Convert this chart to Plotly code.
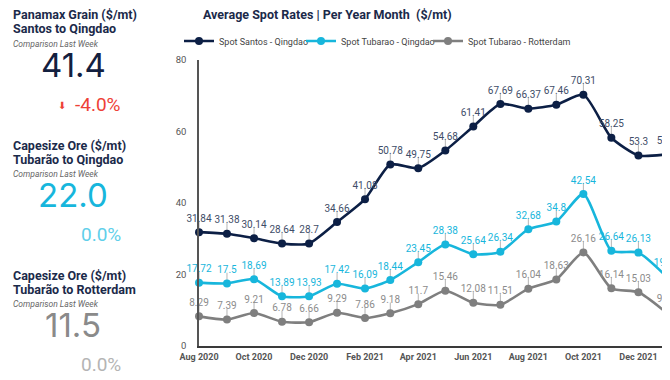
import plotly.graph_objects as go

# page body has an 8px margin; the figure is sized and positioned to compensate
OFF = 8
W, H = 670 - OFF, 380 - OFF

months = ["2020-08-01", "2020-09-01", "2020-10-01", "2020-11-01", "2020-12-01",
          "2021-01-01", "2021-02-01", "2021-03-01", "2021-04-01", "2021-05-01",
          "2021-06-01", "2021-07-01", "2021-08-01", "2021-09-01", "2021-10-01",
          "2021-11-01", "2021-12-01", "2022-01-01"]

santos_qingdao = [31.84, 31.38, 30.14, 28.64, 28.7, 34.66, 41.08, 50.78, 49.75, 54.68,
                  61.41, 67.69, 66.37, 67.46, 70.31, 58.25, 53.3, 53.6]
tubarao_qingdao = [17.72, 17.5, 18.69, 13.89, 13.93, 17.42, 16.09, 18.44, 23.45, 28.38,
                   25.64, 26.34, 32.68, 34.8, 42.54, 26.64, 26.13, 19.45]
tubarao_rotterdam = [8.29, 7.39, 9.21, 6.78, 6.66, 9.29, 7.86, 9.18, 11.7, 15.46,
                     12.08, 11.51, 16.04, 18.63, 26.16, 16.14, 15.03, 9.35]

series_names = ["Spot Santos - Qingdao", "Spot Tubarao - Qingdao", "Spot Tubarao - Rotterdam"]
series_values = [santos_qingdao, tubarao_qingdao, tubarao_rotterdam]
line_colors = ["#0c1f45", "#17b6dc", "#7f7f7f"]
label_colors = ["#3e4d68", "#17b6dc", "#8c8c8c"]
legend_ids = ["legend", "legend2", "legend3"]
legend_text_x = [217, 339, 466]

y_ticks = [0, 20, 40, 60, 80]

FONT = "Roboto"


def fx(px):
    return (px - OFF) / W


def fy(py):
    return 1 - (py - OFF) / H


fig = go.Figure()

for name, vals, lc, lg in zip(series_names, series_values, line_colors, legend_ids):
    fig.add_trace(go.Scatter(
        x=months, y=vals, name=name, mode="lines+markers", legend=lg,
        line=dict(color=lc, width=2.6, shape="spline", smoothing=0.6),
        marker=dict(color=lc, size=8),
        error_y=dict(type="data", symmetric=False, array=[3.0] * len(vals),
                     arrayminus=[0] * len(vals), color="#b5b5b5", thickness=1, width=0),
        cliponaxis=False,
    ))

for name, vals, tc in zip(series_names, series_values, label_colors):
    fig.add_trace(go.Scatter(
        x=months, y=vals, mode="markers+text", showlegend=False,
        marker=dict(size=11, color="rgba(0,0,0,0)"),
        text=[f"{v:g}" for v in vals], textposition="top center",
        textfont=dict(family=FONT, size=10, color=tc),
        hoverinfo="skip", cliponaxis=False,
    ))

legend_common = dict(orientation="h", xanchor="left", yanchor="middle",
                     font=dict(family=FONT, size=9, color="#444"),
                     itemwidth=30, bgcolor="rgba(0,0,0,0)")
legends = {}
for lg, tx in zip(legend_ids, legend_text_x):
    legends[lg] = dict(x=fx(tx - 38), y=fy(41), **legend_common)

fig.update_layout(
    width=W, height=H,
    margin=dict(l=0, r=0, t=0, b=0),
    paper_bgcolor="white", plot_bgcolor="white",
    font=dict(family=FONT),
    showlegend=True,
    xaxis=dict(domain=[fx(199), 1], type="date",
               range=["2020-08-01", "2022-01-05"],
               tick0="2020-08-01", dtick="M2", tickformat="%b %Y",
               showgrid=False, zeroline=False, showline=True, linecolor="#3a3a3a", linewidth=2,
               ticks="", ticklabelstandoff=1,
               tickfont=dict(family=FONT, size=9, color="#555", weight="bold"),
               automargin=False),
    yaxis=dict(domain=[fy(346), fy(60)], range=[0, 80],
               tickvals=y_ticks, showgrid=False, zeroline=False,
               showline=True, linecolor="#555", linewidth=1.5, ticks="",
               ticklabelstandoff=9,
               tickfont=dict(family=FONT, size=9.5, color="#555"),
               automargin=False),
    **legends,
)


def ann(text, px, py, size, color, bold=False, italic=False, anchor="left", family=FONT):
    fig.add_annotation(
        text=text, x=fx(px), y=fy(py), xref="paper", yref="paper",
        xanchor=anchor, yanchor="middle", showarrow=False,
        font=dict(family=family, size=size, color=color,
                  weight="bold" if bold else "normal",
                  style="italic" if italic else "normal"),
    )


ann("Average Spot Rates | Per Year Month  ($/mt)", 201, 15, 12.5, "#1b2a4a", bold=True)

navy = "#1b2a4a"
panels = [
    ("Panamax Grain ($/mt)", "Santos to Qingdao", 0, "41.4", "#13203f", "-4.0%", "#ee4136"),
    ("Capesize Ore ($/mt)", "Tubarão to Qingdao", 130, "22.0", "#17b6dc", "0.0%", "#5fcfea"),
    ("Capesize Ore ($/mt)", "Tubarão to Rotterdam", 260, "11.5", "#8a8a8a", "0.0%", "#b4b4b4"),
]
for t1, t2, dy, big, bigc, chg, chgc in panels:
    ann(t1, 11, 15 + dy, 12.5, navy, bold=True)
    ann(t2, 11, 29 + dy, 12.5, navy, bold=True)
    ann("Comparison Last Week", 11, 44 + dy, 8.5, "#666", italic=True)
    ann(big, 73, 65 + dy, 33, bigc, anchor="center", family="Inter")
    ann(chg, 123, 104 + dy, 19, chgc, anchor="right")

ann("⬇", 62, 105, 10, "#ee4136", anchor="center", family="DejaVu Sans")

fig.write_html("out.html")
